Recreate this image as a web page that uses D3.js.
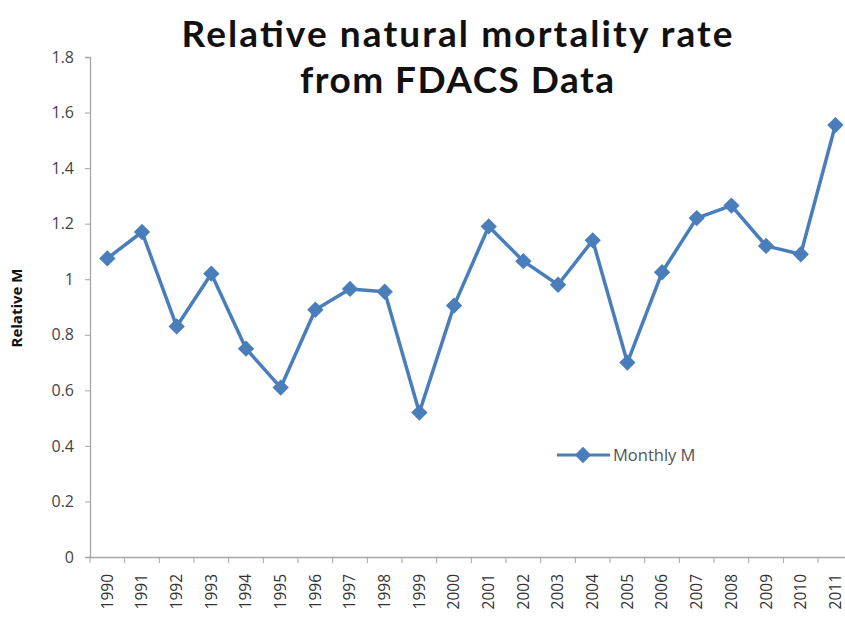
<!DOCTYPE html>
<html><head><meta charset="utf-8">
<script src="https://cdn.jsdelivr.net/npm/d3@7"></script>
<style>body{margin:0;background:#fff}svg{display:block}</style>
</head><body>
<svg id="c" width="845" height="622"></svg>
<script>
const years = ["1990","1991","1992","1993","1994","1995","1996","1997","1998","1999","2000","2001","2002","2003","2004","2005","2006","2007","2008","2009","2010","2011"];
const monthlyM = [1.075,1.17,0.83,1.02,0.75,0.61,0.89,0.965,0.955,0.52,0.905,1.19,1.065,0.98,1.14,0.70,1.025,1.22,1.265,1.12,1.09,1.555];
const yTicks = [0,0.2,0.4,0.6,0.8,1,1.2,1.4,1.6,1.8];
const titleLines = ["Relative natural mortality rate","from FDACS Data"];
const seriesName = "Monthly M";
const yLabel = "Relative M";

(function(){
const svg = d3.select("#c");
const mLeft = 90, mTop = 57, mBottom = 557;
const band = 34.67;
const x = d3.scaleBand().domain(years).range([mLeft, mLeft + band*years.length]).paddingInner(0).paddingOuter(0);
const y = d3.scaleLinear().domain([0,1.8]).range([mBottom, mTop]);
const blue = "#4a7ebb";
const axisCol = "#a6a6a6";
const font = "'Open Sans', 'Liberation Sans', sans-serif";
const titleFont = "Lato, 'Open Sans', sans-serif";

const ya = svg.append("g").attr("transform",`translate(${mLeft},0)`)
  .call(d3.axisLeft(y).tickValues(yTicks).tickSize(5).tickPadding(11).tickFormat(d=>d3.format("")(d)));
ya.select(".domain").attr("stroke",axisCol).attr("stroke-width",1.3);
ya.selectAll(".tick line").attr("stroke",axisCol);
ya.selectAll(".tick text").attr("fill","#444").style("font-family",font).style("font-size","16px");

const xa = svg.append("g").attr("transform",`translate(0,${mBottom})`)
  .call(d3.axisBottom(x).tickSize(0).tickPadding(0));
xa.select(".domain").attr("stroke",axisCol).attr("stroke-width",1.3);
xa.selectAll(".tick text").attr("fill","#333").style("font-family",font).style("font-size","15.5px")
  .attr("text-anchor","end").attr("transform","translate(0,17) rotate(-90)").attr("y",0).attr("dy","0.35em").attr("dx","0");
svg.append("g").selectAll("line").data(d3.range(years.length+1)).join("line")
  .attr("x1",i=>mLeft+i*band).attr("x2",i=>mLeft+i*band)
  .attr("y1",mBottom).attr("y2",mBottom+6).attr("stroke",axisCol);

const line = d3.line().x((d,i)=>x(years[i])+x.bandwidth()/2).y(d=>y(d));
svg.append("path").datum(monthlyM).attr("d",line).attr("fill","none")
  .attr("stroke",blue).attr("stroke-width",3.5).attr("stroke-linejoin","round");
const sym = d3.symbol().type(d3.symbolDiamond2).size(170);
svg.append("g").selectAll("path").data(monthlyM).join("path")
  .attr("d",sym).attr("fill",blue)
  .attr("transform",(d,i)=>`translate(${x(years[i])+x.bandwidth()/2},${y(d)})`);

const titleWidths = [551, 314];
svg.append("g").selectAll("text").data(titleLines).join("text")
  .attr("x",457).attr("y",(d,i)=>47+i*46).attr("text-anchor","middle")
  .attr("textLength",(d,i)=>titleWidths[i]).attr("lengthAdjust","spacing")
  .style("font-family",titleFont).style("font-weight","bold").style("font-size","37px").attr("fill","#111")
  .text(d=>d);

svg.append("text").attr("transform","translate(22,308) rotate(-90)").attr("text-anchor","middle")
  .style("font-family",font).style("font-weight","bold").style("font-size","15px").attr("fill","#111").text(yLabel);

const lg = svg.append("g");
lg.append("line").attr("x1",557).attr("x2",610).attr("y1",455).attr("y2",455).attr("stroke",blue).attr("stroke-width",3);
lg.append("path").attr("d",sym).attr("fill",blue).attr("transform","translate(583,455)");
lg.append("text").attr("x",613).attr("y",455).attr("dy","0.35em").style("font-family",font).style("font-size","16.5px").attr("fill","#555").text(seriesName);
})();
</script>
</body></html>
